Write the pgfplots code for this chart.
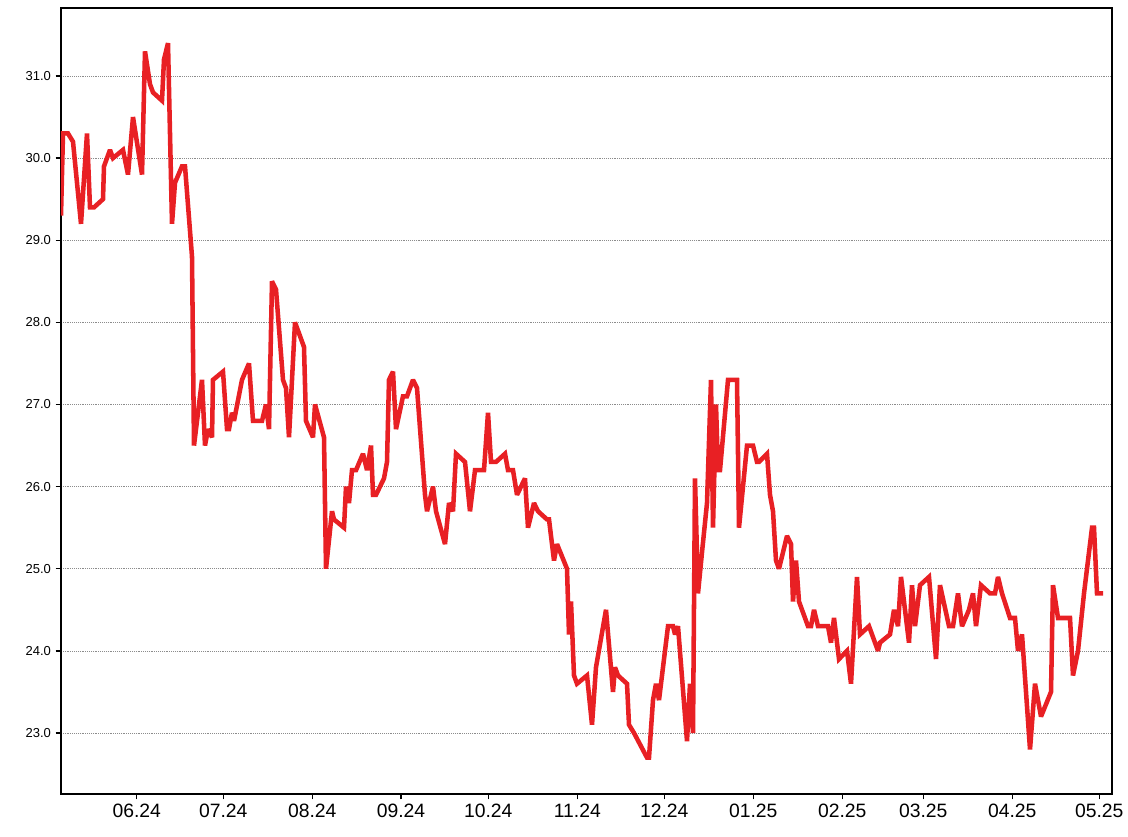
\documentclass[border=0pt]{standalone}
\usepackage{fontspec}
\setmainfont{Liberation Sans}
\usepackage{pgfplots}
\pgfplotsset{compat=1.18}
\definecolor{linered}{RGB}{232,32,36}

% x values are positions along the time axis (tick 06.24 = 136.7 ... 05.25 = 1099.3)
\pgfplotstableread{
x y
61 29.3
63 30.3
68 30.3
73 30.2
81 29.2
87 30.3
90 29.4
94 29.4
103 29.5
104 29.9
110 30.1
113 30.0
123 30.1
128 29.8
133 30.5
142 29.8
145 31.3
150 30.9
153 30.8
162 30.7
164 31.2
168 31.4
172 29.2
175 29.7
182 29.9
185 29.9
192 28.8
194 26.5
202 27.3
205 26.5
208 26.7
212 26.6
213 27.3
223 27.4
227 26.7
229 26.7
232 26.9
234 26.8
242 27.3
249 27.5
253 26.8
262 26.8
266 27.0
269 26.7
272 28.5
276 28.4
283 27.3
286 27.2
289 26.6
295 28.0
304 27.7
306 26.8
313 26.6
315 27.0
324 26.6
326 25.0
332 25.7
334 25.6
344 25.5
346 26.0
349 25.8
352 26.2
356 26.2
363 26.4
367 26.2
371 26.5
373 25.9
376 25.9
384 26.1
387 26.3
389 27.3
393 27.4
396 26.7
403 27.1
407 27.1
413 27.3
417 27.2
425 25.9
427 25.7
433 26.0
436 25.7
445 25.3
449 25.8
453 25.7
456 26.4
465 26.3
470 25.7
475 26.2
484 26.2
488 26.9
491 26.3
496 26.3
505 26.4
508 26.2
513 26.2
517 25.9
525 26.1
528 25.5
534 25.8
538 25.7
547 25.6
549 25.6
554 25.1
557 25.3
567 25.0
569 24.2
571 24.6
574 23.7
577 23.6
587 23.7
592 23.1
596 23.8
606 24.5
613 23.5
615 23.8
618 23.7
627 23.6
629 23.1
634 23.0
647 22.7
649 22.7
653 23.4
656 23.6
659 23.4
668 24.3
673 24.3
675 24.2
678 24.3
687 22.9
690 23.6
693 23.0
695 26.1
698 24.7
702 25.2
707 25.8
711 27.3
713 25.5
716 27.0
718 26.2
720 26.2
728 27.3
737 27.3
739 25.5
747 26.5
753 26.5
757 26.3
759 26.3
767 26.4
770 25.9
773 25.7
776 25.1
779 25.0
787 25.4
791 25.3
793 24.6
796 25.1
799 24.6
808 24.3
811 24.3
814 24.5
818 24.3
828 24.3
831 24.1
834 24.4
839 23.9
847 24.0
851 23.6
857 24.9
860 24.2
869 24.3
878 24.0
880 24.1
890 24.2
894 24.5
898 24.3
901 24.9
909 24.1
912 24.8
915 24.3
920 24.8
929 24.9
936 23.9
940 24.8
949 24.3
953 24.3
958 24.7
962 24.3
969 24.5
973 24.7
976 24.3
981 24.8
990 24.7
995 24.7
998 24.9
1002 24.7
1010 24.4
1015 24.4
1018 24.0
1022 24.2
1030 22.8
1035 23.6
1041 23.2
1051 23.5
1053 24.8
1058 24.4
1070 24.4
1073 23.7
1078 24.0
1084 24.7
1092 25.5
1094 25.5
1097 24.7
1103 24.7
}\prices

\begin{document}
\begin{tikzpicture}
\begin{axis}[
    scale only axis,
    width=788.25pt, height=589.5pt,
    xmin=61, xmax=1112,
    ymin=22.257, ymax=31.828,
    axis line style={line width=1.1pt},
    tick align=outside,
    xtick pos=left, ytick pos=left,
    major tick length=4pt,
    tick style={line width=1.1pt, black},
    xtick={136.7,223.3,312.3,401,488.3,577.3,664.3,753.3,842.3,923.3,1012.3,1099.3},
    xticklabels={06.24,07.24,08.24,09.24,10.24,11.24,12.24,01.25,02.25,03.25,04.25,05.25},
    ytick={23,24,...,31},
    /pgf/number format/assume math mode=true,
    yticklabel style={font=\fontsize{9.75}{11}\selectfont, /pgf/number format/.cd, fixed, fixed zerofill, precision=1},
    xticklabel style={font=\fontsize{14.5}{16}\selectfont},
    ymajorgrids,
    major grid style={gray!90, densely dotted, line width=0.5pt},
]
\addplot[linered, line width=3.4pt, no marks, miter limit=2.5] table[x=x, y=y] {\prices};
\end{axis}
\pgfresetboundingbox
\path (-45.75pt,-31.5pt) rectangle (800.25pt,595.5pt);
\end{tikzpicture}
\end{document}
